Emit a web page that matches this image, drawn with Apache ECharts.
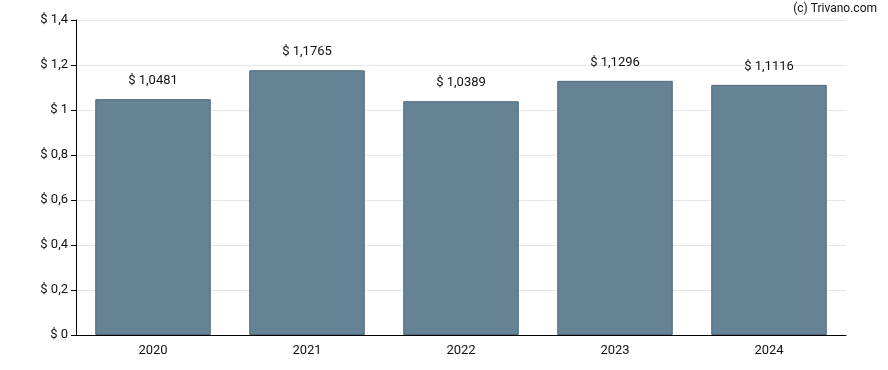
<!DOCTYPE html>
<html><head><meta charset="utf-8">
<script src="https://cdn.jsdelivr.net/npm/echarts@6/dist/echarts.min.js"></script>
<style>html,body{margin:0;padding:0;background:#fff}#c{width:888px;height:370px}</style>
</head><body><div id="c"></div>
<script>
var categories = ['2020','2021','2022','2023','2024'];
var values = [1.0481, 1.1765, 1.0389, 1.1296, 1.1116];
var yTicks = [0, 0.2, 0.4, 0.6, 0.8, 1, 1.2, 1.4];

function fmt(v){ return '$ ' + String(v).replace('.', ','); }

var chart = echarts.init(document.getElementById('c'), null, {renderer:'canvas'});
chart.setOption({
  animation:false,
  textStyle:{fontFamily:'Roboto'},
  graphic:[{type:'text', right:11, top:3, style:{text:'(c) Trivano.com', font:'12px Roboto', fill:'#111'}}],
  grid:{left:76, right:42, top:20, bottom:35},
  xAxis:{type:'category', data:categories,
    axisLine:{lineStyle:{color:'#000', width:1}},
    axisTick:{alignWithLabel:true, length:5, lineStyle:{color:'#000'}},
    axisLabel:{color:'#111', fontSize:13, margin:9, fontFamily:'Roboto'}},
  yAxis:{type:'value', min:0, max:1.4, interval:0.2,
    axisLine:{show:true, lineStyle:{color:'#000', width:1}},
    axisTick:{show:true, length:5, lineStyle:{color:'#000'}},
    splitLine:{lineStyle:{color:'#e6e6e6'}},
    axisLabel:{color:'#111', fontSize:13, margin:8, fontFamily:'Roboto',
      formatter:function(v){ return fmt(Math.round(v*10)/10); }}},
  series:[{type:'bar', data:values, barWidth:'75%',
    itemStyle:{color:'#668395', borderColor:'#4b687c', borderWidth:1},
    label:{show:true, position:'top', distance:12, color:'#111', fontSize:13, fontFamily:'Roboto',
      formatter:function(p){ return fmt(p.value); }}}]
});
</script></body></html>
